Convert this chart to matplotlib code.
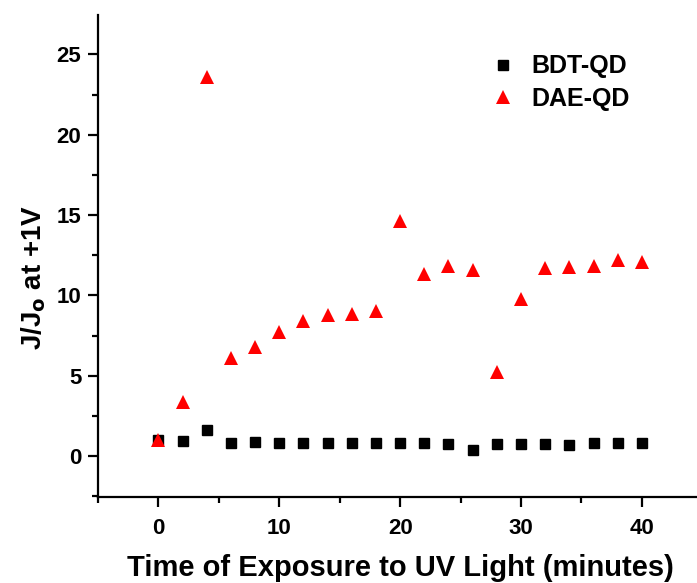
import matplotlib.pyplot as plt
from matplotlib.ticker import MultipleLocator

plt.rcParams['font.family'] = ['Liberation Sans', 'DejaVu Sans']
plt.rcParams['font.weight'] = 'bold'

# exposure time (minutes)
time_min = [0, 2, 4, 6, 8, 10, 12, 14, 16, 18, 20, 22, 24, 26, 28, 30, 32, 34, 36, 38, 40]
# J/Jo at +1V
bdt_qd = [1.0, 0.95, 1.6, 0.8, 0.85, 0.82, 0.82, 0.8, 0.82, 0.8, 0.8, 0.8, 0.78, 0.35,
          0.78, 0.75, 0.72, 0.7, 0.8, 0.8, 0.82]
dae_qd = [1.0, 3.35, 23.6, 6.1, 6.8, 7.7, 8.4, 8.8, 8.85, 9.0, 14.6, 11.3, 11.8, 11.55,
          5.2, 9.8, 11.7, 11.75, 11.8, 12.2, 12.1]

fig = plt.figure(figsize=(6.97, 5.83), dpi=100)
ax = fig.add_axes([0.1406, 0.1475, 0.867, 0.8268])

ax.plot(time_min, bdt_qd, 's', color='black', markersize=7.5, label='BDT-QD')
ax.plot(time_min, dae_qd, '^', color='red', markersize=10, markeredgewidth=0, label='DAE-QD')

ax.set_xlim(-5, 45)
ax.set_ylim(-2.55, 27.45)
ax.xaxis.set_major_locator(MultipleLocator(10))
ax.xaxis.set_minor_locator(MultipleLocator(5))
ax.yaxis.set_major_locator(MultipleLocator(5))
ax.yaxis.set_minor_locator(MultipleLocator(2.5))

for side in ['top', 'right']:
    ax.spines[side].set_visible(False)
for side in ['left', 'bottom']:
    ax.spines[side].set_linewidth(1.6)

ax.tick_params(which='major', direction='out', length=7, width=1.6, labelsize=16)
ax.tick_params(axis='x', which='major', pad=8)
ax.tick_params(axis='y', which='major', pad=5)
ax.tick_params(which='minor', direction='out', length=4, width=1.6)
for lbl in ax.get_xticklabels() + ax.get_yticklabels():
    lbl.set_fontweight('bold')

ax.set_xlabel('Time of Exposure to UV Light (minutes)', fontsize=21, fontweight='bold', va='baseline')
ax.xaxis.set_label_coords(0.5, -0.164)
ax.set_ylabel(r'J/J$_\mathbf{o}$ at +1V', fontsize=20, fontweight='bold')
ax.yaxis.set_label_coords(-0.082, 0.456)

leg = ax.legend(loc='upper left', bbox_to_anchor=(0.613, 0.965), frameon=False, fontsize=18,
                handletextpad=0.6, labelspacing=0.35, handlelength=1.0)
for t in leg.get_texts():
    t.set_fontweight('bold')

fig.savefig('out.png', dpi=100)
